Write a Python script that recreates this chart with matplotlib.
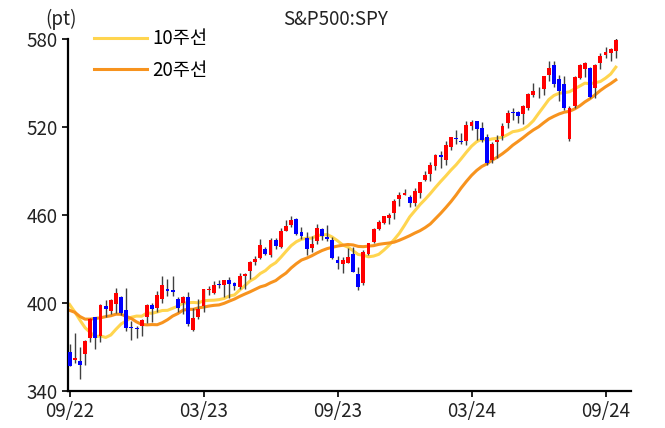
import numpy as np
import matplotlib
matplotlib.use("Agg")
import matplotlib.pyplot as plt
from matplotlib.lines import Line2D

plt.rcParams['font.family'] = ['Noto Sans CJK KR', 'DejaVu Sans']

# weekly SPY candles, 2022-09-30 .. 2024-10-11
opens = [366.41, 361.08, 360.66, 364.99, 375.89, 390.14, 377.71, 397.74, 394.64, 399.09,
         403.95, 395.11, 383.06, 382.79, 384.37, 390.37, 398.48, 396.72, 402.80, 409.79,
         408.72, 403.06, 399.87, 404.42, 381.81, 390.80, 397.98, 408.85, 406.61, 412.37,
         411.99, 415.47, 413.42, 411.09, 418.28, 422.03, 428.28, 430.92, 436.67, 432.62,
         442.92, 438.18, 449.13, 453.37, 457.41, 448.71, 444.53, 437.55, 442.24, 450.73,
         444.93, 443.05, 429.17, 426.62, 427.58, 433.37, 419.61, 413.56, 433.14, 441.91,
         450.53, 454.65, 457.99, 461.63, 470.98, 473.86, 472.16, 468.43, 475.26, 484.01,
         487.81, 493.70, 501.17, 497.72, 506.70, 512.03, 510.48, 510.45, 520.68, 523.83,
         519.15, 513.34, 497.80, 509.56, 513.75, 522.56, 529.57, 530.27, 529.02, 533.18,
         542.08, 544.33, 545.63, 555.28, 562.03, 553.00, 548.98, 511.64, 534.21, 553.73,
         559.53, 560.47, 546.44, 563.74, 569.34, 570.42, 572.00]
highs = [372.30, 379.46, 370.26, 374.80, 389.52, 390.39, 399.35, 402.31, 402.93, 410.00,
         404.93, 410.49, 387.41, 384.35, 389.25, 399.10, 400.23, 408.16, 418.31, 416.49,
         418.70, 404.16, 404.45, 407.45, 396.47, 402.49, 409.70, 411.92, 415.09, 415.72,
         415.94, 417.62, 414.54, 420.72, 420.77, 428.74, 431.99, 443.90, 438.37, 444.30,
         444.08, 451.36, 456.43, 459.44, 458.16, 451.70, 448.11, 445.41, 453.67, 451.06,
         453.52, 444.97, 431.85, 431.13, 437.34, 438.14, 424.82, 436.29, 440.93, 451.38,
         456.38, 459.65, 461.37, 470.76, 475.90, 477.55, 473.67, 478.60, 482.72, 490.11,
         496.05, 501.65, 503.50, 510.13, 513.29, 518.22, 515.82, 524.11, 524.61, 524.38,
         523.17, 515.48, 509.88, 514.41, 522.64, 531.52, 533.07, 531.05, 534.69, 543.42,
         550.28, 547.18, 555.05, 565.16, 565.16, 555.27, 555.01, 534.10, 554.94, 563.18,
         564.20, 560.81, 563.03, 570.41, 574.71, 574.06, 580.36]
lows = [357.04, 359.21, 348.11, 357.51, 373.11, 368.79, 373.61, 390.14, 392.66, 393.30,
        391.97, 381.04, 374.77, 376.42, 377.83, 386.27, 387.26, 393.56, 400.28, 405.01,
        404.88, 393.64, 392.33, 384.32, 380.65, 389.40, 393.69, 405.68, 405.97, 410.17,
        403.78, 403.74, 408.87, 409.88, 409.88, 416.22, 425.82, 430.17, 432.47, 431.19,
        437.06, 437.58, 449.08, 451.55, 446.27, 443.35, 433.01, 435.00, 439.97, 442.75,
        442.17, 429.99, 422.87, 420.18, 427.01, 421.08, 409.21, 412.22, 433.01, 441.19,
        449.98, 453.54, 454.12, 457.57, 466.00, 473.30, 465.68, 466.43, 471.56, 483.10,
        482.86, 490.92, 492.28, 494.06, 504.64, 508.56, 508.22, 508.04, 518.18, 510.93,
        509.60, 493.86, 495.14, 499.12, 511.12, 519.13, 524.72, 522.60, 522.10, 531.80,
        540.27, 540.02, 542.12, 551.06, 547.60, 537.80, 531.70, 510.27, 532.87, 553.04,
        553.88, 539.44, 539.92, 559.65, 566.73, 565.11, 567.00]
closes = [357.18, 362.79, 357.63, 374.29, 389.02, 376.35, 398.51, 396.03, 402.33, 406.91,
          393.28, 383.27, 382.91, 382.43, 388.08, 398.50, 395.88, 405.68, 412.35, 408.04,
          407.26, 396.38, 404.19, 385.91, 389.99, 395.75, 409.39, 409.19, 412.46, 412.20,
          415.93, 412.63, 411.59, 418.62, 420.02, 427.92, 429.90, 439.46, 433.21, 443.28,
          438.55, 449.28, 452.18, 456.92, 446.81, 445.65, 436.50, 439.97, 451.19, 445.52,
          443.37, 430.42, 427.48, 429.54, 431.50, 421.19, 410.68, 434.69, 440.61, 450.79,
          455.30, 459.10, 460.20, 469.33, 473.65, 475.31, 467.92, 476.68, 482.43, 487.41,
          494.35, 501.20, 499.51, 507.85, 512.85, 511.72, 509.83, 521.21, 523.07, 518.43,
          510.85, 495.16, 508.26, 511.29, 520.84, 529.45, 529.44, 527.37, 534.01, 542.78,
          544.51, 544.22, 554.64, 559.99, 548.99, 544.44, 532.90, 533.27, 554.31, 562.13,
          563.68, 540.36, 562.01, 568.25, 571.47, 572.98, 579.58]

# 10-week and 20-week moving average lines
ma10 = [399.0, 394.0, 388.4, 383.2, 379.9, 377.0, 377.6, 376.5, 378.2, 382.1,
        385.7, 387.8, 390.3, 391.1, 391.0, 393.2, 393.0, 393.9, 394.9, 395.0,
        396.4, 397.8, 399.9, 400.2, 400.4, 400.1, 401.5, 401.8, 401.9, 402.3,
        403.1, 404.8, 405.5, 408.8, 411.8, 415.0, 417.0, 420.1, 422.1, 425.3,
        427.5, 431.2, 435.2, 439.1, 441.8, 443.5, 444.2, 444.2, 446.0, 446.3,
        446.7, 444.9, 442.4, 439.6, 438.1, 435.7, 433.1, 432.6, 431.5, 432.0,
        433.2, 436.1, 439.4, 443.3, 447.6, 453.0, 458.7, 462.9, 467.1, 470.7,
        474.6, 478.8, 482.8, 486.6, 490.6, 494.2, 498.4, 502.8, 506.9, 510.0,
        511.7, 511.0, 511.9, 512.3, 513.1, 514.8, 516.8, 517.4, 518.5, 520.9,
        524.3, 529.2, 533.9, 538.7, 541.5, 543.0, 543.4, 544.0, 546.0, 547.9,
        549.9, 549.5, 550.2, 551.0, 553.3, 556.1, 560.8]
ma20 = [395.0, 393.7, 390.8, 389.0, 389.0, 389.5, 389.9, 390.7, 391.3, 392.4,
        392.3, 390.9, 389.4, 387.1, 385.4, 385.1, 385.3, 385.2, 386.6, 388.6,
        391.1, 392.8, 395.1, 395.7, 395.7, 396.7, 397.2, 397.9, 398.4, 398.7,
        399.8, 401.3, 402.7, 404.5, 406.1, 407.6, 409.3, 411.0, 412.0, 413.8,
        415.3, 418.0, 420.4, 423.9, 426.8, 429.3, 430.6, 432.2, 434.1, 435.8,
        437.1, 438.0, 438.8, 439.4, 439.9, 439.6, 438.6, 438.4, 438.8, 439.1,
        440.0, 440.5, 440.9, 441.5, 442.8, 444.3, 445.9, 447.7, 449.3, 451.4,
        453.9, 457.5, 461.1, 465.0, 469.1, 473.6, 478.5, 482.9, 487.0, 490.4,
        493.1, 494.9, 497.4, 499.4, 501.8, 504.5, 507.6, 510.1, 512.7, 515.5,
        518.0, 520.1, 522.9, 525.5, 527.3, 528.9, 530.1, 530.7, 532.3, 534.4,
        537.1, 539.3, 542.0, 544.9, 547.4, 549.6, 552.1]

tick_pos = [0, 26, 52, 78, 104]
tick_labels = ["09/22", "03/23", "09/23", "03/24", "09/24"]
y_ticks = [340, 400, 460, 520, 580]

fig = plt.figure(figsize=(6.65, 4.28), dpi=100)
ax = fig.add_axes([0.1023, 0.0864, 0.847, 0.8225])

x = np.arange(len(closes))
o = np.array(opens)
c = np.array(closes)
cols = np.where(c >= o, '#FF0000', '#0000FF')

ax.plot(x, ma10, color='#FFD54F', lw=2.2, zorder=2)
ax.plot(x, ma20, color='#F7931E', lw=2.2, zorder=2)
ax.vlines(x, lows, highs, color='#404040', lw=1, zorder=3)
body = np.maximum(np.abs(c - o), 0.5)   # keep doji visible
ax.bar(x, body, bottom=np.minimum(o, c), width=0.75, color=cols, zorder=4)

ax.set_xlim(-0.3, 109)
ax.set_ylim(340, 580)
ax.set_yticks(y_ticks)
ax.set_xticks(tick_pos)
ax.set_xticklabels(tick_labels)
for sp in ['top', 'right']:
    ax.spines[sp].set_visible(False)
for sp in ['left', 'bottom']:
    ax.spines[sp].set_linewidth(1.6)
ax.tick_params(direction='out', length=4, width=1.4, labelsize=13.5, colors='#222222')

handles = [Line2D([], [], color='#FFD54F', lw=2.2), Line2D([], [], color='#F7931E', lw=2.2)]
ax.legend(handles, ['10주선', '20주선'], loc='upper left', bbox_to_anchor=(0.017, 1.078),
          frameon=False, fontsize=13.5, handlelength=2.8, handletextpad=0.3, labelspacing=0.55)

fig.text(0.068, 0.955, "(pt)", fontsize=13.5, color='#222222', va='center')
fig.text(0.505, 0.955, "S&P500:SPY", fontsize=13.5, color='#222222', ha='center', va='center')

fig.savefig("out.png", dpi=100)
